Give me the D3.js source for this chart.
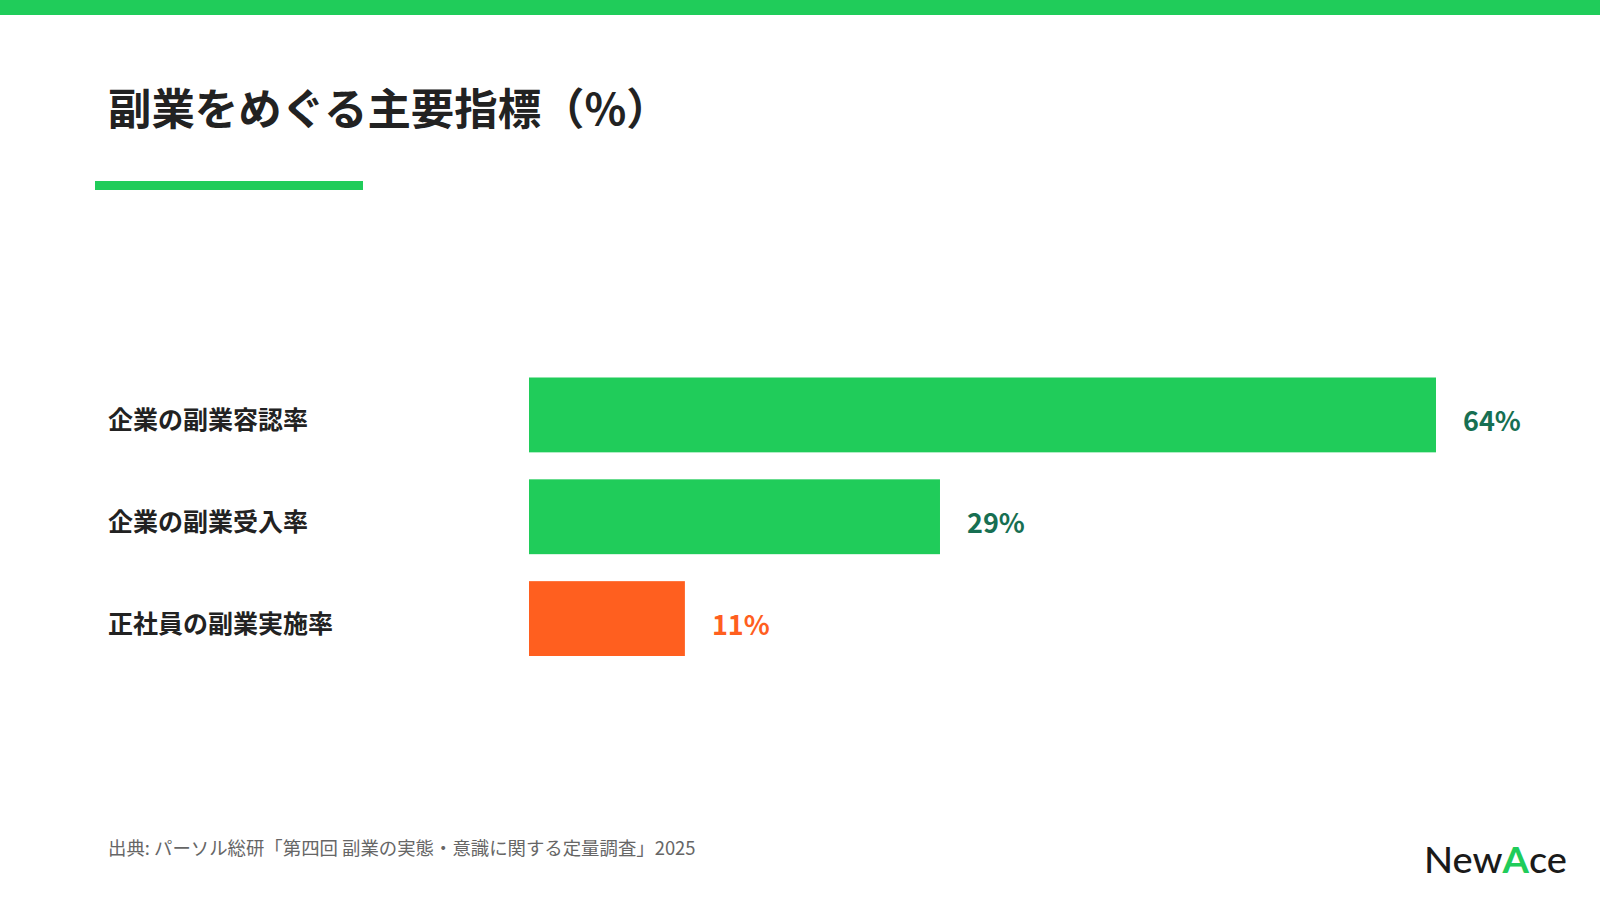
<!DOCTYPE html>
<html><head><meta charset="utf-8">
<script src="https://cdn.jsdelivr.net/npm/d3@7"></script>
<style>
html,body{margin:0;padding:0;background:#fff;}
svg{display:block;}
text{font-family:"Noto Sans CJK JP","Noto Sans",sans-serif;}
</style></head>
<body>
<svg id="chart" width="1600" height="903"></svg>
<script>
const categories = ["企業の副業容認率", "企業の副業受入率", "正社員の副業実施率"];
const values = [64, 29, 11];
const valueLabels = ["64%", "29%", "11%"];
const highlightCategory = "正社員の副業実施率";
const titleText = "副業をめぐる主要指標（%）";
const sourceText = "出典: パーソル総研「第四回 副業の実態・意識に関する定量調査」2025";

const GREEN = "#20cc5a", ORANGE = "#ff5f1f", DARKGREEN = "#176f52", TEXT = "#222222";

const svg = d3.select("#chart");
svg.append("rect").attr("x",0).attr("y",0).attr("width",1600).attr("height",15).attr("fill",GREEN);

svg.append("text").attr("x",108).attr("y",125)
  .attr("font-size",43.4).attr("font-weight",700).attr("fill",TEXT).text(titleText);
svg.append("rect").attr("x",95).attr("y",181).attr("width",268).attr("height",9).attr("fill",GREEN);

const x = d3.scaleLinear().domain([0, 64]).range([529, 1436]);
const y = d3.scaleBand().domain(categories).range([377.5, 656]).paddingInner(0.265).paddingOuter(0);

const rows = categories.map((c,i)=>({cat:c, v:values[i], label:valueLabels[i]}));
const col = d => d.cat === highlightCategory ? ORANGE : GREEN;
const lcol = d => d.cat === highlightCategory ? ORANGE : DARKGREEN;

svg.selectAll("rect.bar").data(rows).join("rect").attr("class","bar")
  .attr("x", x(0)).attr("y", d=>y(d.cat))
  .attr("width", d=>x(d.v)-x(0)).attr("height", y.bandwidth()).attr("fill", col);

svg.selectAll("text.cat").data(rows).join("text").attr("class","cat")
  .attr("x",108).attr("y", d=>y(d.cat)+y.bandwidth()/2+14.5)
  .attr("font-size",25).attr("font-weight",700).attr("fill",TEXT).text(d=>d.cat);

svg.selectAll("text.val").data(rows).join("text").attr("class","val")
  .attr("x", d=>x(d.v)+27).attr("y", d=>y(d.cat)+y.bandwidth()/2+16)
  .attr("font-size",27).attr("font-weight",700).attr("fill",lcol).text(d=>d.label);

svg.append("text").attr("x",108).attr("y",855)
  .attr("font-size",18.4).attr("fill","#666666").text(sourceText);

const logo = svg.append("text").attr("x",1424).attr("y",873)
  .attr("font-size",36).attr("font-weight",500).attr("fill","#1a1a1a")
  .attr("textLength",143).attr("lengthAdjust","spacingAndGlyphs")
  .style("font-family","Lato, 'Noto Sans', sans-serif");
logo.append("tspan").text("New");
logo.append("tspan").attr("fill",GREEN).attr("font-weight",700).text("A");
logo.append("tspan").text("ce");
</script>
</body></html>
